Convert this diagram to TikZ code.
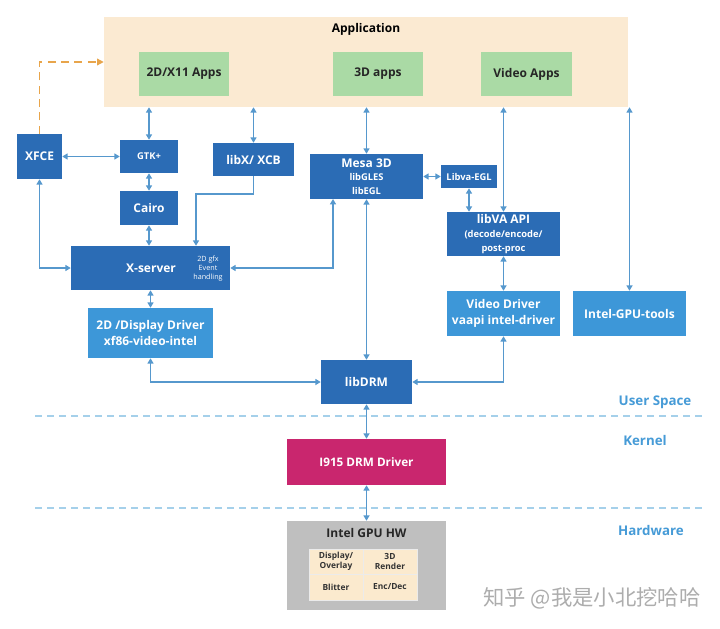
\documentclass[tikz,border=0pt]{standalone}
\usepackage{fontspec}
\setmainfont{Open Sans}
\newfontfamily\cjk{Noto Sans CJK SC}
\usetikzlibrary{arrows.meta}
\definecolor{dblue}{RGB}{43,108,181}
\definecolor{lblue}{RGB}{61,151,216}
\definecolor{appgreen}{RGB}{170,218,165}
\definecolor{appbg}{RGB}{251,234,210}
\definecolor{arrblue}{RGB}{86,152,205}
\definecolor{lblblue}{RGB}{70,155,215}
\definecolor{magent}{RGB}{201,38,110}
\definecolor{hwgrey}{RGB}{191,191,191}
\definecolor{cellbg}{RGB}{251,234,206}
\definecolor{orng}{RGB}{232,165,75}
\definecolor{sepblue}{RGB}{165,208,234}
\tikzset{
  sz/.style 2 args={minimum width={#1*0.75pt},minimum height={#2*0.75pt}},
  base/.style={inner sep=0pt,align=center,font=\fontsize{9}{12}\selectfont\bfseries},
  dbox/.style={base,fill=dblue,text=white},
  lbox/.style={base,fill=lblue,text=white},
  gbox/.style={base,fill=appgreen,text=black!85},
  cellbox/.style={inner sep=0pt,align=center,fill=cellbg,draw=white!92!black,line width=0.5pt,font=\fontsize{6.3}{7.5}\selectfont\bfseries,text=black!80},
  arr/.style={draw=arrblue,line width=1pt,{Triangle[length=4pt,width=4.5pt]}-{Triangle[length=4pt,width=4.5pt]}},
  arrone/.style={draw=arrblue,line width=1pt,-{Triangle[length=4pt,width=4.5pt]}},
  sep/.style={draw=sepblue,line width=1pt,dash pattern=on 5pt off 4pt},
  lbl/.style={font=\fontsize{10}{12}\selectfont\bfseries,text=lblblue},
  smf/.style={font=\fontsize{7}{8}\selectfont\bfseries}
}
\begin{document}
\begin{tikzpicture}[x=0.75pt,y=-0.75pt]
\useasboundingbox[fill=white] (0,0) rectangle (720,628);
% application area
\node[base,fill=appbg,sz={524}{90}] (app) at (366,62) {};
\node[base,text=black] (apptitle) at (366,29) {Application};
\node[gbox,sz={90}{44}] (x11) at (184,74) {2D/X11 Apps};
\node[gbox,sz={90}{44}] (d3) at (378,74) {3D apps};
\node[gbox,sz={91}{44}] (vid) at (526.5,74) {Video Apps};
% blue boxes
\node[dbox,sz={45}{45}] (xfce) at (39.5,156.5) {XFCE};
\node[dbox,sz={58}{33},smf] (gtk) at (149,156.5) {GTK+};
\node[dbox,sz={81}{33}] (libx) at (253.5,159.5) {libX/ XCB};
\node[dbox,sz={113}{45}] (mesa) at (366.5,176.5) {Mesa 3D\\[-1.8pt]{\fontsize{7}{10.5}\selectfont libGLES}\\[-1.8pt]{\fontsize{7}{10.5}\selectfont libEGL}};
\node[dbox,sz={56}{23},smf] (legl) at (469,176.5) {Libva-EGL};
\node[dbox,sz={113}{44}] (libva) at (503.5,234) {libVA API\\[-1.8pt]{\fontsize{7}{10.5}\selectfont (decode/encode/}\\[-1.8pt]{\fontsize{7}{10.5}\selectfont post-proc}};
\node[dbox,sz={58}{34}] (cairo) at (149,208) {Cairo};
\node[dbox,sz={159}{44}] (xsrv) at (150.5,268) {};
\node[base,text=white] (xsrvt) at (151,268) {X-server};
\node[base,text=white,font=\fontsize{5.4}{6.6}\selectfont] (xsrvs) at (208,268.5) {2D gfx\\Event\\handling};
\node[lbox,sz={125}{50}] (dd) at (150.5,333) {2D /Display Driver\\xf86-video-intel};
\node[lbox,sz={113}{45}] (vd) at (503.5,313.5) {Video Driver\\vaapi intel-driver};
\node[lbox,sz={113}{45}] (tools) at (629.5,313.5) {Intel-GPU-tools};
\node[dbox,sz={91}{44}] (drm) at (366.5,382) {libDRM};
% separators
\coordinate (s1a) at (35,416); \coordinate (s1b) at (702,416);
\coordinate (s2a) at (35,508); \coordinate (s2b) at (702,508);
\draw[sep] (s1a) -- (s1b);
\draw[sep] (s2a) -- (s2b);
\node[lbl] (us) at (655,402) {User Space};
\node[lbl] (kn) at (645,440) {Kernel};
\node[lbl] (hw) at (651,530) {Hardware};
% kernel / hardware
\node[base,fill=magent,text=white,sz={159}{46},font=\fontsize{8.8}{10}\selectfont\bfseries] (i915) at (366.5,462) {I915 DRM Driver};
\node[base,fill=hwgrey,sz={159}{89}] (gpu) at (366.5,565.5) {};
\node[base,text=black!85,font=\fontsize{9}{10}\selectfont\bfseries] (gput) at (366.5,533) {Intel GPU HW};
\node[cellbox,sz={54}{25}] (c11) at (336,561.5) {Display/\\Overlay};
\node[cellbox,sz={54}{25}] (c12) at (390,561.5) {3D\\Render};
\node[cellbox,sz={54}{26}] (c21) at (336,587) {Blitter};
\node[cellbox,sz={54}{26}] (c22) at (390,587) {Enc/Dec};
% watermark
\node[text=black!32,font=\cjk\fontsize{16}{18}\selectfont] (wm) at (592,598) {知乎 @我是小北挖哈哈};
% connectors
\draw[draw=orng,line width=1pt,dash pattern=on 6pt off 4pt,-{Triangle[length=5pt,width=5pt]}] (xfce.north) |- (app.west);
\draw[arr] (gtk.north) -- (gtk.north |- app.south);
\draw[arr] (libx.north) -- (libx.north |- app.south);
\draw[arr] (mesa.north) -- (mesa.north |- app.south);
\draw[arr] (libva.north) -- (libva.north |- app.south);
\draw[arr] (tools.north) -- (tools.north |- app.south);
\draw[arr] (xfce.east) -- (gtk.west);
\draw[arr] (gtk.south) -- (cairo.north);
\draw[arr] (cairo.south) -- (cairo.south |- xsrv.north);
\coordinate (c1) at (196,194);
\draw[arrone] (libx.south) |- (c1) -- (c1 |- xsrv.north);
\draw[arr] (xfce.south) |- (xsrv.west);
\coordinate (mb) at (333,199);
\draw[arr] (xsrv.east) -| (mb);
\draw[arr] (mesa.east |- legl.west) -- (legl.west);
\draw[arr] (legl.south) -- (legl.south |- libva.north);
\draw[arr] (xsrv.south) -- (dd.north);
\draw[arr] (dd.south) |- (drm.west);
\draw[arr] (mesa.south) -- (drm.north);
\draw[arr] (libva.south) -- (vd.north);
\draw[arr] (vd.south) |- (drm.east);
\draw[arr] (drm.south) -- (i915.north);
\draw[arr] (i915.south) -- (gpu.north);
\end{tikzpicture}
\end{document}
